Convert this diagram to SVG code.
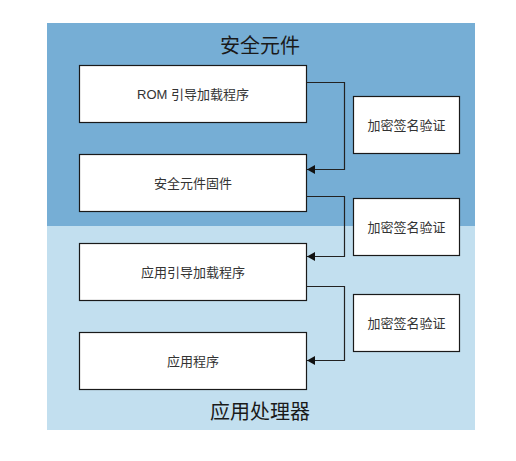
<svg xmlns="http://www.w3.org/2000/svg" width="516" height="461" viewBox="0 0 516 461">
<defs>
<style>
.box{fill:#ffffff;stroke:#1a1a1a;stroke-width:1.2}
.t{font-family:"Liberation Sans","Noto Sans CJK SC",sans-serif;font-size:13px;fill:#333333;text-anchor:middle;dominant-baseline:central}
.title{font-family:"Liberation Sans","Noto Sans CJK SC",sans-serif;font-size:20px;fill:#1a1a1a;text-anchor:middle}
.conn{fill:none;stroke:#222222;stroke-width:1.2}
</style>
<marker id="arr" markerWidth="9" markerHeight="9" refX="8" refY="4.5" orient="auto" markerUnits="userSpaceOnUse">
<path d="M0,0 L8,4.5 L0,9 Z" fill="#111111"/>
</marker>
</defs>
<rect width="516" height="461" fill="#ffffff"/>
<g id="secure-element">
<rect x="47" y="23" width="428" height="203" fill="#76aed5"/>
<text class="title" x="260" y="53">安全元件</text>
</g>
<g id="app-processor">
<rect x="47" y="226" width="428" height="204" fill="#c2dfef"/>
<text class="title" x="260" y="419">应用处理器</text>
</g>
<g id="rom-bootloader">
<rect class="box" x="79.5" y="65.5" width="227" height="57"/>
<text class="t" x="193" y="94">ROM 引导加载程序</text>
</g>
<g id="se-firmware">
<rect class="box" x="79.5" y="154.5" width="227" height="57"/>
<text class="t" x="193" y="183">安全元件固件</text>
</g>
<g id="app-bootloader">
<rect class="box" x="79.5" y="243.5" width="227" height="57"/>
<text class="t" x="193" y="272">应用引导加载程序</text>
</g>
<g id="application">
<rect class="box" x="79.5" y="332.5" width="227" height="57"/>
<text class="t" x="193" y="361">应用程序</text>
</g>
<g id="verify1">
<rect class="box" x="353.5" y="96.5" width="106" height="57"/>
<text class="t" x="406.5" y="125">加密签名验证</text>
</g>
<g id="verify2">
<rect class="box" x="353.5" y="198.5" width="106" height="57"/>
<text class="t" x="406.5" y="227">加密签名验证</text>
</g>
<g id="verify3">
<rect class="box" x="353.5" y="294.5" width="106" height="57"/>
<text class="t" x="406.5" y="323">加密签名验证</text>
</g>
<g id="connectors">
<path class="conn" d="M306.5,82.5 H344.5 V169.5 H307" marker-end="url(#arr)"/>
<path class="conn" d="M306.5,196.5 H344.5 V256.5 H307" marker-end="url(#arr)"/>
<path class="conn" d="M306.5,286.5 H344.5 V360.5 H307" marker-end="url(#arr)"/>
</g>
</svg>
